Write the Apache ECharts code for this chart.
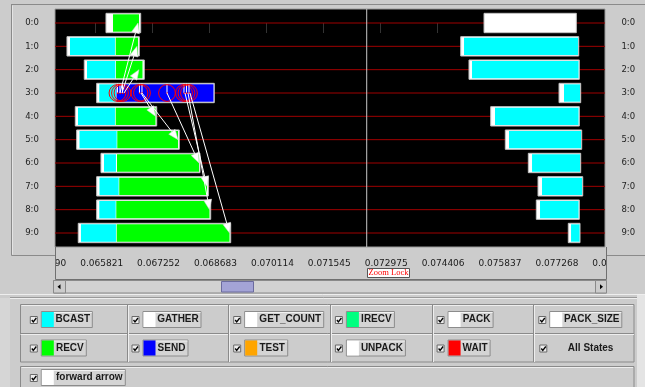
<!DOCTYPE html>
<html>
<head>
<meta charset="utf-8">
<title>Timeline</title>
<script src="https://cdn.jsdelivr.net/npm/echarts@6.0.0/dist/echarts.min.js"></script>
<style>
  html, body { margin: 0; padding: 0; background: #cccccc; }
  #chart { width: 645px; height: 387px; }
</style>
</head>
<body>
<div id="chart"></div>
<script>
// timeline rows (rank:thread)
const rowLabels = ['0:0', '1:0', '2:0', '3:0', '4:0', '5:0', '6:0', '7:0', '8:0', '9:0'];

// visible time window, time axis ticks, zoom lock marker
const timeMin = 0.064798;
const timeMax = 0.078628;
const timeTicks = [0.064390, 0.065821, 0.067252, 0.068683, 0.070114, 0.071545,
                   0.072975, 0.074406, 0.075837, 0.077268, 0.078699];
const zoomLockTime = 0.072636;

// first block, one entry per row (null = no such state on that row)
const gatherLeftStart = [0.066080, 0.065099, 0.065534, 0.065846, 0.065308, 0.065343, 0.065954, 0.065846, 0.065846, 0.065383];
const gatherLeftEnd   = [0.066953, 0.066917, 0.067043, 0.068803, 0.067355, 0.067923, 0.068444, 0.068653, 0.068713, 0.069216];
const bcastLeftStart  = [null,     0.065175, 0.065602, 0.065912, 0.065376, 0.065414, 0.066030, 0.065917, 0.065912, 0.065451];
const bcastLeftEnd    = [null,     0.066306, 0.066314, 0.066331, 0.066306, 0.066349, 0.066331, 0.066399, 0.066324, 0.066331];
const recvStart       = [0.066256, 0.066324, 0.066331, null,     0.066324, 0.066364, 0.066357, 0.066414, 0.066339, 0.066349];
const recvEnd         = [0.066910, 0.066885, 0.066998, null,     0.067325, 0.067891, 0.068419, 0.068620, 0.068683, 0.069186];
const sendStart       = [null, null, null, 0.066344, null, null, null, null, null, null];
const sendEnd         = [null, null, null, 0.068783, null, null, null, null, null, null];

// second block
const gatherRightStart = [0.075586, 0.075000, 0.075208, 0.077472, 0.075754, 0.076121, 0.076700, 0.076944, 0.076901, 0.077705];
const gatherRightEnd   = [0.077907, 0.077967, 0.077982, 0.078017, 0.077982, 0.078042, 0.078017, 0.078068, 0.077982, 0.078000];
const bcastRightStart  = [null,     0.075083, 0.075284, 0.077597, 0.075862, 0.076214, 0.076793, 0.077044, 0.076994, 0.077774];
const bcastRightEnd    = [null,     0.077949, 0.077962, 0.078000, 0.077962, 0.078025, 0.078000, 0.078050, 0.077962, 0.077987];

// messages (forward arrows)
const arrowFromRow  = [3, 3, 3, 3, 3, 3, 3, 3, 3];
const arrowFromTime = [0.066432, 0.066482, 0.066533, 0.066960, 0.066985, 0.067614, 0.068067, 0.068142, 0.068192];
const arrowToRow    = [0, 1, 2, 4, 5, 6, 7, 8, 9];
const arrowToTime   = [0.066885, 0.066860, 0.066910, 0.067325, 0.067891, 0.068419, 0.068620, 0.068683, 0.069186];

// events on row 3
const eventRow  = [3, 3, 3, 3, 3, 3, 3, 3, 3];
const eventTime = [0.066369, 0.066432, 0.066495, 0.066922, 0.066985, 0.067614, 0.068041, 0.068104, 0.068167];

// legend
const legendNames  = ['BCAST', 'GATHER', 'GET_COUNT', 'IRECV', 'PACK', 'PACK_SIZE',
                      'RECV', 'SEND', 'TEST', 'UNPACK', 'WAIT'];
const legendColors = ['#00ffff', '#ffffff', '#ffffff', '#00ff80', '#ffffff', '#ffffff',
                      '#00ff00', '#0000ff', '#ffa500', '#ffffff', '#ff0000'];
const arrowLegendName = 'forward arrow';
const arrowLegendColor = '#ffffff';

const colorOf = name => legendColors[legendNames.indexOf(name)];

// states as custom series items: [start, end, row, depth]
const stateData = [];
function addState(name, starts, ends, depth) {
  starts.forEach((s, row) => {
    if (s === null) return;
    stateData.push({ value: [s, ends[row], row, depth], itemStyle: { color: colorOf(name) } });
  });
}
addState('GATHER', gatherLeftStart, gatherLeftEnd, 0);
addState('BCAST', bcastLeftStart, bcastLeftEnd, 1);
addState('RECV', recvStart, recvEnd, 1);
addState('SEND', sendStart, sendEnd, 1);
addState('GATHER', gatherRightStart, gatherRightEnd, 0);
addState('BCAST', bcastRightStart, bcastRightEnd, 1);

const arrowData = arrowFromTime.map((t, i) => [t, arrowFromRow[i], arrowToTime[i], arrowToRow[i]]);
const eventData = eventTime.map((t, i) => [t, eventRow[i]]);

function gridRect(params) {
  const cs = params.coordSys;
  return { x: cs.x, y: cs.y, width: cs.width, height: cs.height };
}

function renderRowLine(params, api) {
  const y = api.coord([timeMin, api.value(0)])[1];
  const cs = params.coordSys;
  return { type: 'line', shape: { x1: cs.x, y1: y, x2: cs.x + cs.width, y2: y },
           style: { stroke: '#a00000', lineWidth: 1 } };
}

function renderZoomLock(params, api) {
  const x = api.coord([api.value(0), 0])[0];
  const cs = params.coordSys;
  return { type: 'line', shape: { x1: x, y1: cs.y, x2: x, y2: cs.y + cs.height },
           style: { stroke: '#c8c8c8', lineWidth: 1 } };
}

function renderState(params, api) {
  const a = api.coord([api.value(0), api.value(2)]);
  const b = api.coord([api.value(1), api.value(2)]);
  const unit = api.size([0, 1])[1];
  const outer = api.value(3) === 0;
  const half = unit * 0.415 - (outer ? 0 : 1);
  const shape = echarts.graphic.clipRectByRect(
    { x: a[0], y: a[1] - half, width: b[0] - a[0], height: half * 2 }, gridRect(params));
  if (!shape) return;
  return { type: 'rect', shape: shape,
           style: { fill: api.visual('color'), stroke: outer ? '#c2c2c2' : null, lineWidth: 1 } };
}

function renderEvent(params, api) {
  const c = api.coord([api.value(0), api.value(1)]);
  const unit = api.size([0, 1])[1];
  return { type: 'group', children: [
    { type: 'line', shape: { x1: c[0], y1: c[1] - unit * 0.4, x2: c[0], y2: c[1] },
      style: { stroke: '#ffffff', lineWidth: 1 } },
    { type: 'circle', shape: { cx: c[0], cy: c[1], r: unit * 0.36 },
      style: { fill: 'none', stroke: '#ff0000', lineWidth: 1 } },
    { type: 'rect', shape: { x: c[0] - 0.5, y: c[1] - 0.5, width: 1.5, height: 1.5 },
      style: { fill: '#ff0000' } }
  ] };
}

function renderArrow(params, api) {
  const p0 = api.coord([api.value(0), api.value(1)]);
  const p1 = api.coord([api.value(2), api.value(3)]);
  const dx = p1[0] - p0[0], dy = p1[1] - p0[1];
  const len = Math.sqrt(dx * dx + dy * dy);
  const ux = dx / len, uy = dy / len;
  const hl = 10, hw = 4;
  const bx = p1[0] - ux * hl, by = p1[1] - uy * hl;
  return { type: 'group', children: [
    { type: 'line', shape: { x1: p0[0], y1: p0[1], x2: bx, y2: by },
      style: { stroke: '#ffffff', lineWidth: 1 } },
    { type: 'polygon', shape: { points: [[p1[0], p1[1]], [bx - uy * hw, by + ux * hw], [bx + uy * hw, by - ux * hw]] },
      style: { fill: '#ffffff', stroke: '#d0d0d0', lineWidth: 0.5 } }
  ] };
}

const rowAxis = (position, margin) => ({
  type: 'value', inverse: true, min: -0.6, max: 9.6, position: position,
  axisLine: { show: false }, axisTick: { show: false }, splitLine: { show: false },
  axisLabel: {
    customValues: rowLabels.map((_, i) => i),
    formatter: v => rowLabels[Math.round(v)],
    align: 'center', margin: margin,
    fontFamily: 'DejaVu Sans', fontSize: 8.5, color: '#222'
  }
});

const chart = echarts.init(document.getElementById('chart'), null, { renderer: 'canvas' });
chart.setOption({
  animation: false,
  backgroundColor: '#cccccc',
  grid: { left: 55, top: 9, width: 550, height: 238, show: true,
          backgroundColor: '#000000', borderColor: '#9a9a9a', borderWidth: 1 },
  xAxis: {
    type: 'value', min: timeMin, max: timeMax, position: 'bottom',
    axisLine: { show: false },
    splitLine: { show: false },
    axisTick: { show: true, length: 10, customValues: timeTicks.slice(1, -1),
                lineStyle: { color: '#333333' } },
    axisLabel: { customValues: timeTicks.slice(1, -1), formatter: v => v.toFixed(6),
                 margin: 11, lineHeight: 11, padding: [0, 0, 0, 12],
                 fontFamily: 'DejaVu Sans', fontSize: 9, color: '#1a1a1a' }
  },
  yAxis: [rowAxis('left', 23), rowAxis('right', 23.3)],
  series: [
    { type: 'custom', renderItem: renderRowLine, data: rowLabels.map((_, i) => [i]),
      encode: { y: 0 }, silent: true },
    { type: 'custom', renderItem: renderZoomLock, data: [[zoomLockTime]],
      encode: { x: 0 }, silent: true },
    { type: 'custom', renderItem: renderState, data: stateData,
      encode: { x: [0, 1], y: 2 }, silent: true },
    { type: 'custom', renderItem: renderEvent, data: eventData,
      encode: { x: 0, y: 1 }, silent: true },
    { type: 'custom', renderItem: renderArrow, data: arrowData,
      encode: { x: [0, 2], y: [1, 3] }, silent: true, clip: true }
  ]
});

// ---- window chrome, axis overflow labels, legend ----
const g = [];
const Z = 10;
const line = (x1, y1, x2, y2, c) =>
  g.push({ type: 'line', z: Z, silent: true, shape: { x1, y1, x2, y2 }, style: { stroke: c, lineWidth: 1 } });
const rect = (x, y, w, h, fill, stroke) =>
  g.push({ type: 'rect', z: Z, silent: true, shape: { x, y, width: w, height: h },
           style: { fill: fill, stroke: stroke || null, lineWidth: 1 } });
const text = (x, y, s, font) =>
  g.push({ type: 'text', z: Z, silent: true, x, y,
           style: Object.assign({ text: s, fill: '#1a1a1a', align: 'center', verticalAlign: 'middle' }, font) });

const boldFont = { fontFamily: 'Liberation Sans', fontWeight: 'bold', fontSize: 10 };
const measure = document.createElement('canvas').getContext('2d');
measure.font = 'bold 10px "Liberation Sans"';
const textWidth = s => measure.measureText(s).width;

// tick labels that run past the panel edges, clipped by covers
[timeTicks[0], timeTicks[timeTicks.length - 1]].forEach(v => {
  const px = chart.convertToPixel({ xAxisIndex: 0 }, v);
  text(px + 6, 263.5, v.toFixed(6), { fontFamily: 'DejaVu Sans', fontSize: 9 });
});
rect(0, 256, 55, 23, '#cccccc');
rect(607, 256, 38, 23, '#cccccc');

// frames around the timeline panels
line(11, 4.5, 645, 4.5, '#8a8a8a');
line(11.5, 4.5, 11.5, 255.5, '#8a8a8a');
line(12.5, 5.5, 12.5, 254.5, '#e4e4e4');
line(11.5, 255.5, 55, 255.5, '#8a8a8a');
line(607, 255.5, 645, 255.5, '#8a8a8a');
line(55.5, 247, 55.5, 279.5, '#707070');
line(55.5, 279.5, 606.5, 279.5, '#707070');
line(606.5, 247, 606.5, 279.5, '#707070');

// zoom lock tag
const zx = chart.convertToPixel({ xAxisIndex: 0 }, zoomLockTime);
rect(Math.round(zx) + 0.5, 268.5, 42, 9, '#ffffff', '#555555');
text(Math.round(zx) + 21.5, 273.2, 'Zoom Lock',
     { fontFamily: 'Liberation Serif', fontSize: 8.5, fill: '#ff0000' });

// horizontal scrollbar
rect(53.5, 280.5, 553, 12.5, '#d2d2d2', '#8a8a8a');
rect(53.5, 280.5, 12, 12.5, '#cccccc', '#8a8a8a');
g.push({ type: 'polygon', z: Z, silent: true, shape: { points: [[57.5, 286.8], [60.5, 284.3], [60.5, 289.3]] }, style: { fill: '#000' } });
rect(595.5, 280.5, 11, 12.5, '#cccccc', '#8a8a8a');
g.push({ type: 'polygon', z: Z, silent: true, shape: { points: [[603, 286.8], [600, 284.3], [600, 289.3]] }, style: { fill: '#000' } });
rect(221.5, 281.5, 32, 10.5, '#a3a3d6', '#6b6b9e');

// legend panel
line(0, 294.5, 645, 294.5, '#eeeeee');
line(10, 297.5, 637, 297.5, '#9a9a9a');
line(10, 298.5, 637, 298.5, '#eeeeee');
rect(0, 298, 10, 89, '#d6d6d6');
rect(637, 295, 8, 92, '#e4e4e4');

const colX = k => 24.8 + k * 101.7;
const rowMid = [319.5, 348, 377.5];
rect(20.5, 304.5, 613.5, 57.5, null, '#8a8a8a');
line(21.5, 305.5, 633, 305.5, '#eeeeee');
line(20.5, 333.5, 634, 333.5, '#8a8a8a');
line(20.5, 334.5, 634, 334.5, '#eeeeee');
for (let k = 1; k <= 5; k++) {
  const x = Math.round(colX(k)) + 0.5;
  line(x, 304.5, x, 362, '#8a8a8a');
  line(x + 1, 305, x + 1, 362, '#eeeeee');
}
rect(20.5, 366.5, 613.5, 25, null, '#8a8a8a');
line(21.5, 367.5, 633, 367.5, '#eeeeee');

function checkbox(x, cy) {
  const y = cy - 3.5;
  rect(x + 0.5, y + 0.5, 7, 7, '#ededed', '#6a6a6a');
  g.push({ type: 'polyline', z: Z, silent: true,
           shape: { points: [[x + 2, y + 4], [x + 3.5, y + 6], [x + 6.5, y + 2]] },
           style: { stroke: '#000000', lineWidth: 1.3, fill: null } });
}
function button(x, cy, name, color) {
  const w = Math.round(12 + textWidth(name) + 5);
  rect(x + 0.5, cy - 8, w, 16, '#d4d4d4', '#8c8c8c');
  line(x + 13, cy - 7, x + w, cy - 7, '#f2f2f2');
  rect(x + 1, cy - 7.5, 12, 15, color);
  text(x + 12.5 + (w - 12) / 2, cy, name, boldFont);
}

legendNames.forEach((name, i) => {
  const x = colX(i % 6), cy = rowMid[Math.floor(i / 6)];
  checkbox(x + 5, cy);
  button(x + 16, cy, name, legendColors[i]);
});
checkbox(colX(5) + 6, rowMid[1]);
text((colX(5) + 14 + 634) / 2, rowMid[1], 'All States', boldFont);
checkbox(colX(0) + 5, rowMid[2]);
button(colX(0) + 16, rowMid[2], arrowLegendName, arrowLegendColor);

chart.setOption({ graphic: { elements: g } });
</script>
</body>
</html>
